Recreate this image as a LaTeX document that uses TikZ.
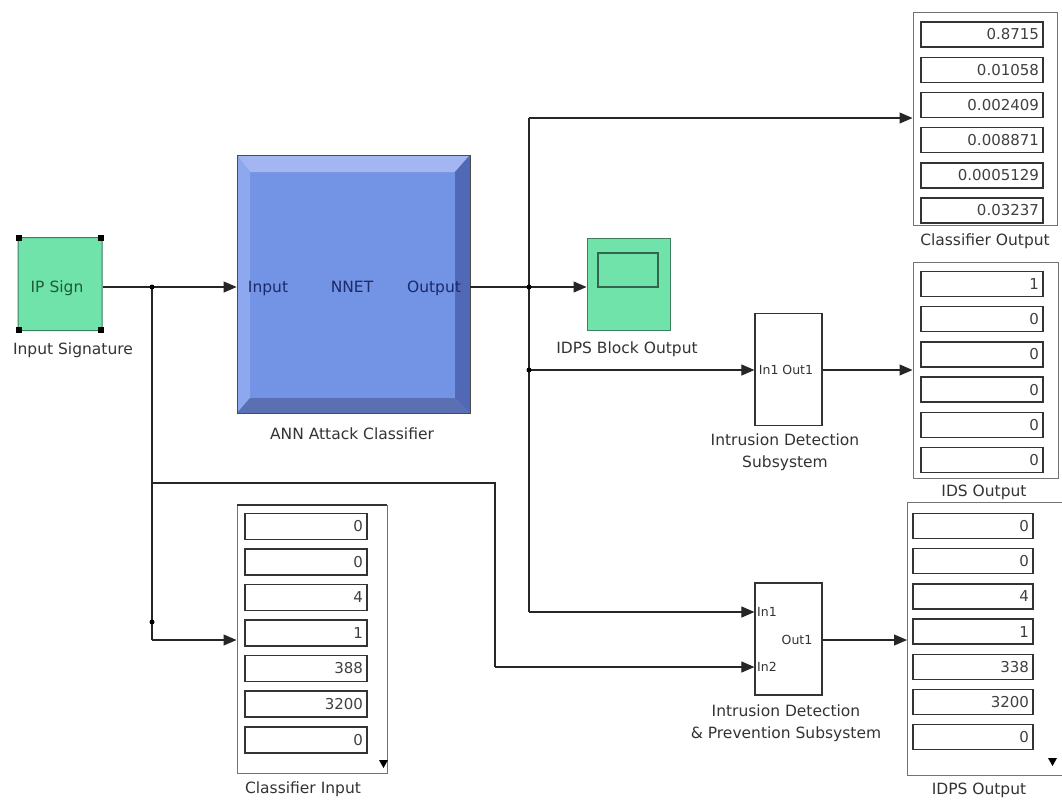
\documentclass[tikz,border=0pt]{standalone}
\usepackage{fontspec}
\setmainfont{DejaVu Sans}
\usetikzlibrary{arrows.meta}
\definecolor{annface}{HTML}{7393E4}
\definecolor{annlight}{HTML}{A3B6F2}
\definecolor{annleft}{HTML}{8EA8EF}
\definecolor{anndark}{HTML}{5068B6}
\definecolor{annbot}{HTML}{5B6FB3}
\definecolor{anntext}{HTML}{1A2A6A}
\definecolor{grn}{HTML}{6FE3A9}
\definecolor{grnedge}{HTML}{3E7E5E}
\definecolor{grntext}{HTML}{1F5A3A}
\begin{document}
\begin{tikzpicture}[x=1pt,y=-1pt,
  txt/.style={font=\fontsize{15.5}{22}\selectfont, text=black!80, inner sep=0pt},
  wire/.style={line width=1.1pt, draw=black!85},
  arr/.style={wire, -{Triangle[length=13pt,width=11pt]}},
  jdot/.style={circle, fill=black, inner sep=0pt, minimum size=5pt},
  field/.style={draw=black!80, line width=1.4pt, fill=white, minimum height=25pt,
    text width=#1, inner xsep=4pt, inner ysep=0pt, align=right,
    font=\fontsize{15}{16}\selectfont, text=black!75},
  field/.default=114pt,
  disp/.style={draw=black!55, line width=1pt, fill=white, inner sep=0pt},
  subsys/.style={draw=black!80, line width=1.2pt, fill=white, minimum width=67pt, minimum height=112pt, inner sep=0pt},
  handle/.style={fill=black, inner sep=0pt, minimum size=6pt},
  port/.style={txt, font=\fontsize{12.5}{14}\selectfont}
]
\useasboundingbox (0,0) rectangle (1062,801);
\fill[white] (0,0) rectangle (1062,801);

% ---------- Input Signature ----------
\node[draw=grnedge, line width=1pt, fill=grn, rounded corners=4pt, minimum width=84pt, minimum height=93pt, inner sep=0pt] (ins) at (60,284) {};
\node[txt, text=grntext, anchor=base] (inslab) at (57,292) {IP Sign};
\node[handle] (h1) at (19,238) {};
\node[handle] (h2) at (101,238) {};
\node[handle] (h3) at (19,330) {};
\node[handle] (h4) at (101,330) {};
\node[txt] (insname) at (73,350) {Input Signature};

% ---------- ANN block ----------
\node[draw=black!70, line width=0.8pt, fill=annface, minimum width=233pt, minimum height=258pt, inner sep=0pt] (ann) at (353.5,284) {};
\fill[annlight] (237,155) -- (470,155) -- (455,172) -- (250,172) -- cycle;
\fill[annleft] (237,155) -- (250,172) -- (250,398) -- (237,413) -- cycle;
\fill[anndark] (470,155) -- (470,413) -- (455,398) -- (455,172) -- cycle;
\fill[annbot] (237,413) -- (470,413) -- (455,398) -- (250,398) -- cycle;
\draw[black!70, line width=0.8pt] (237,155) rectangle (470,413);
\node[txt, text=anntext, anchor=base] (annin) at (268,292) {Input};
\node[txt, text=anntext, anchor=base] (annmid) at (352,292) {NNET};
\node[txt, text=anntext, anchor=base] (annout) at (434,292) {Output};
\node[txt] (annname) at (352,434) {ANN Attack Classifier};

% ---------- Scope ----------
\node[draw=grnedge, line width=1pt, fill=grn, minimum width=83pt, minimum height=92pt, inner sep=0pt] (scope) at (628.5,284) {};
\node[draw=grnedge!80!black, line width=1.3pt, fill=grn, minimum width=60pt, minimum height=34pt, inner sep=0pt] (screen) at (628,270) {};
\node[txt] (scopename) at (627,349) {IDPS Block Output};

% ---------- Subsystems ----------
\node[subsys] (ids) at (788.5,369.5) {};
\node[port] (idsio) at (786,370) {In1 Out1};
\node[txt, align=center] (idsname) at (785,452) {Intrusion Detection\\Subsystem};

\node[subsys] (idps) at (788.5,639) {};
\node[port, anchor=west] (idpsin1) at (757,612) {In1};
\node[port, anchor=west] (idpsin2) at (757,667) {In2};
\node[port] (idpsout) at (797,640) {Out1};
\node[txt, align=center] (idpsname) at (786,723) {Intrusion Detection\\\& Prevention Subsystem};

% ---------- Classifier Output display ----------
\node[disp, minimum width=144pt, minimum height=213pt] (co) at (985,118.5) {};
\node[field] (co1) at (982,34.5) {0.8715};
\node[field] (co2) at (982,69.7) {0.01058};
\node[field] (co3) at (982,104.9) {0.002409};
\node[field] (co4) at (982,140.1) {0.008871};
\node[field] (co5) at (982,175.3) {0.0005129};
\node[field] (co6) at (982,210.5) {0.03237};
\node[txt] (coname) at (985,241) {Classifier Output};

% ---------- IDS Output display ----------
\node[disp, minimum width=145pt, minimum height=216pt] (io) at (985.5,370) {};
\node[field] (io1) at (982,284) {1};
\node[field] (io2) at (982,319.2) {0};
\node[field] (io3) at (982,354.4) {0};
\node[field] (io4) at (982,389.6) {0};
\node[field] (io5) at (982,424.8) {0};
\node[field] (io6) at (982,460) {0};
\node[txt] (ioname) at (984,492) {IDS Output};

% ---------- IDPS Output display ----------
\draw[black!55, line width=1pt, fill=white] (1066,502) -- (907,502) -- (907,775) -- (1066,775);
\coordinate (po) at (907,640);
\node[field=112pt] (po1) at (973,526) {0};
\node[field=112pt] (po2) at (973,561.2) {0};
\node[field=112pt] (po3) at (973,596.4) {4};
\node[field=112pt] (po4) at (973,631.6) {1};
\node[field=112pt] (po5) at (973,666.8) {338};
\node[field=112pt] (po6) at (973,702) {3200};
\node[field=112pt] (po7) at (973,737.2) {0};
\fill[black] (1048,758) -- (1057,758) -- (1052.5,766) -- cycle;
\node[txt] (poname) at (979,790) {IDPS Output};

% ---------- Classifier Input display ----------
\node[disp, minimum width=150pt, minimum height=268pt] (ci) at (312,639) {};
\draw[black!80, line width=1.8pt] (237,505) -- (387,505);
\node[field, minimum height=26pt] (ci1) at (306,526.5) {0};
\node[field, minimum height=26pt] (ci2) at (306,562) {0};
\node[field, minimum height=26pt] (ci3) at (306,597.5) {4};
\node[field, minimum height=26pt] (ci4) at (306,633) {1};
\node[field, minimum height=26pt] (ci5) at (306,668.5) {388};
\node[field, minimum height=26pt] (ci6) at (306,704) {3200};
\node[field, minimum height=26pt] (ci7) at (306,740) {0};
\fill[black] (379,760) -- (388,760) -- (383.5,768) -- cycle;
\node[txt] (ciname) at (303,789) {Classifier Input};

% ---------- Junction coordinates ----------
\coordinate (j1) at (152,287);
\coordinate (j2) at (152,483);
\coordinate (j3) at (152,622);
\coordinate (j4) at (152,640);
\coordinate (k1) at (495,483);
\coordinate (k2) at (495,667);
\coordinate (m0) at (529,118);
\coordinate (m1) at (529,287);
\coordinate (m2) at (529,370);
\coordinate (m3) at (529,612);

% ---------- Wires ----------
\draw[arr] (ins.east |- j1) -- (ann.west |- j1);
\draw[wire] (j1) -- (j4);
\draw[arr] (j4) -- (ci.west |- j4);
\draw[wire] (j2) -- (k1) -- (k2);
\draw[arr] (k2) -- (idps.west |- k2);

\draw[arr] (ann.east |- m1) -- (scope.west |- m1);
\draw[wire] (m0) -- (m3);
\draw[arr] (m0) -- (co.west |- m0);
\draw[arr] (m2) -- (ids.west |- m2);
\draw[arr] (m3) -- (idps.west |- m3);

\draw[arr] (ids.east |- m2) -- (io.west |- m2);
\draw[arr] (idps.east |- po) -- (po);

\node[jdot] (d1) at (j1) {};
\node[jdot] (d2) at (j3) {};
\node[jdot] (d3) at (m1) {};
\node[jdot] (d4) at (m2) {};
\end{tikzpicture}
\end{document}
